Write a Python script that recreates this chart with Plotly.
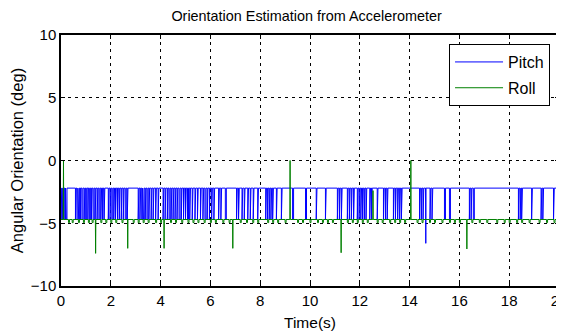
import plotly.graph_objects as go

# ---- data ----
pitch_high = -2.2
pitch_low = -4.7
# intervals (s) where pitch drops to the low level
pitch_dips = [
    (0.00, 0.03), (0.05, 0.08), (0.10, 0.12), (0.15, 0.18), (0.21, 0.24),
    (0.58, 0.61), (0.64, 0.68), (0.71, 0.74), (0.78, 0.80), (0.84, 0.88), (0.93, 0.96),
    (0.99, 1.03), (1.08, 1.10), (1.14, 1.18), (1.22, 1.25), (1.29, 1.33), (1.37, 1.40),
    (1.45, 1.48), (1.52, 1.56), (1.60, 1.63), (1.67, 1.70), (1.73, 1.76),
    (1.90, 1.93), (1.97, 2.00), (2.04, 2.08), (2.12, 2.15), (2.19, 2.22), (2.27, 2.30),
    (2.34, 2.37), (2.42, 2.45), (2.50, 2.53), (2.58, 2.62), (2.66, 2.69),
    (3.10, 3.13), (3.17, 3.20), (3.24, 3.28), (3.31, 3.34), (3.38, 3.41), (3.45, 3.49),
    (3.53, 3.56), (3.62, 3.65), (3.70, 3.73), (3.80, 3.83), (3.90, 3.93),
    (4.10, 4.13), (4.18, 4.21), (4.27, 4.30), (4.34, 4.38), (4.42, 4.45), (4.50, 4.53),
    (4.58, 4.61), (4.66, 4.69), (4.74, 4.78), (4.83, 4.86), (4.92, 4.95), (5.00, 5.03),
    (5.08, 5.12), (5.17, 5.20), (5.27, 5.30), (5.38, 5.41), (5.48, 5.51), (5.60, 5.63),
    (5.70, 5.73), (5.78, 5.82), (5.87, 5.90), (5.96, 5.99), (6.05, 6.08), (6.14, 6.17),
    (6.33, 6.36), (6.42, 6.45), (6.60, 6.64), (7.05, 7.08), (7.13, 7.16), (7.27, 7.30),
    (7.36, 7.39), (7.50, 7.53), (7.60, 7.63), (7.72, 7.75), (7.90, 7.93),
    (8.22, 8.25), (8.29, 8.32), (8.36, 8.39), (8.43, 8.46), (8.50, 8.53), (8.65, 8.68),
    (8.85, 8.88), (9.30, 9.34), (9.82, 9.86), (10.25, 10.28), (10.62, 10.65),
    (11.10, 11.13), (11.18, 11.21), (11.26, 11.29), (11.50, 11.53), (11.58, 11.61),
    (11.66, 11.69), (11.75, 11.78), (11.90, 11.93), (11.97, 12.00), (12.04, 12.07),
    (12.11, 12.14), (12.18, 12.21), (12.25, 12.28), (12.40, 12.43), (12.47, 12.50),
    (12.70, 12.73), (12.95, 12.98), (13.03, 13.06), (13.10, 13.13), (13.35, 13.38),
    (13.43, 13.46), (13.52, 13.55), (13.60, 13.63), (13.67, 13.70),
    (14.40, 14.43), (14.47, 14.50), (14.54, 14.57), (14.82, 14.85), (14.90, 14.93),
    (15.40, 15.44), (15.60, 15.64), (16.40, 16.43), (16.47, 16.50), (16.56, 16.60),
    (18.37, 18.40), (18.44, 18.47), (18.50, 18.53), (18.90, 18.93), (19.28, 19.31),
    (19.35, 19.38), (19.78, 19.81),
]
pitch_spikes = [(14.65, -6.6)]

roll_base = -4.7
roll_spikes = [(0.10, 0.0), (1.39, -7.4), (2.68, -7.0), (4.14, -7.0), (6.90, -7.0),
               (9.20, 0.0), (11.25, -7.35), (12.53, -2.4), (14.05, 0.0), (16.30, -7.05)]
roll_blip_level = -4.95
roll_blips = [0.30, 0.45, 0.70, 0.90, 1.10, 1.25, 1.60, 1.80, 2.00, 2.20, 2.45, 2.90,
              3.10, 3.30, 3.50, 3.80, 4.00, 4.40, 4.60, 4.85, 5.10, 5.30, 5.50, 5.75,
              6.00, 6.20, 6.50, 6.75, 7.20, 7.45, 7.70, 7.90, 8.30, 8.50, 8.70, 9.00,
              9.50, 9.70, 10.00, 10.30, 10.50, 10.70, 10.90, 11.50, 11.70, 11.90, 12.10,
              12.30, 12.70, 12.90, 13.20, 13.40, 13.60, 13.80, 14.30, 14.50, 14.80, 15.00,
              15.30, 15.60, 15.80, 16.00, 16.50, 16.80, 17.10, 17.50, 17.80, 18.00, 18.30,
              18.50, 18.80, 19.20, 19.50, 19.80]

t_end = 20.0
x_ticks = [0, 2, 4, 6, 8, 10, 12, 14, 16, 18, 20]
y_ticks = [-10, -5, 0, 5, 10]

# ---- build step traces from the listed events ----
def build(base, intervals, spikes, end):
    ev = []
    for a, b, lvl in intervals:
        ev.append((a, [(a, base), (a, lvl), (b, lvl), (b, base)]))
    for t, v in spikes:
        ev.append((t, [(t - 0.01, base), (t, v), (t + 0.01, base)]))
    ev.sort(key=lambda e: e[0])
    xs, ys = [0.0], [base]
    for _, pts in ev:
        for px, py in pts:
            xs.append(px)
            ys.append(py)
    xs.append(end)
    ys.append(base)
    return xs, ys

px_, py_ = build(pitch_high, [(a, b, pitch_low) for a, b in pitch_dips], pitch_spikes, t_end)
rx_, ry_ = build(roll_base, [(t, t + 0.04, roll_blip_level) for t in roll_blips], roll_spikes, t_end)

fig = go.Figure()
fig.add_trace(go.Scatter(x=px_, y=py_, mode="lines", name="Pitch", legendgroup="p",
                         line=dict(color="#0000ff", width=1)))
fig.add_trace(go.Scatter(x=rx_, y=ry_, mode="lines", name="Roll", legendgroup="r",
                         line=dict(color="#008000", width=1)))

font_family = "Liberation Sans, Arial, sans-serif"
axis_common = dict(
    showgrid=True, gridcolor="black", gridwidth=1, griddash="3px,4px",
    showline=True, linecolor="black", linewidth=1.5, mirror="ticks",
    ticks="inside", ticklen=4, tickcolor="black",
    zeroline=False, automargin=False, ticklabeloverflow="allow",
    tickfont=dict(size=15, color="black", family=font_family),
)

# page body adds an 8px offset, so the figure is sized to the remaining area
fig.update_layout(
    width=556, height=328,
    margin=dict(l=53, r=5, t=27, b=50),
    paper_bgcolor="white", plot_bgcolor="white",
    font=dict(family=font_family, color="black"),
    title=dict(text="Orientation Estimation from Accelerometer",
               x=0.537, xref="container", xanchor="center",
               y=0.976, yref="container", yanchor="middle", font=dict(size=14.4)),
    xaxis=dict(range=[0, 20], tickvals=x_ticks,
               title=dict(text="Time(s)", font=dict(size=15.5), standoff=9),
               **axis_common),
    yaxis=dict(range=[-10, 10], tickvals=y_ticks,
               title=dict(text="Angular Orientation (deg)", font=dict(size=16.5), standoff=7),
               **axis_common),
    legend=dict(x=0.982, xanchor="right", y=0.964, yanchor="top",
                bordercolor="black", borderwidth=1, bgcolor="white",
                font=dict(size=16), tracegroupgap=2, itemwidth=48,
                traceorder="grouped"),
    showlegend=True,
)

fig.write_html("out.html")
